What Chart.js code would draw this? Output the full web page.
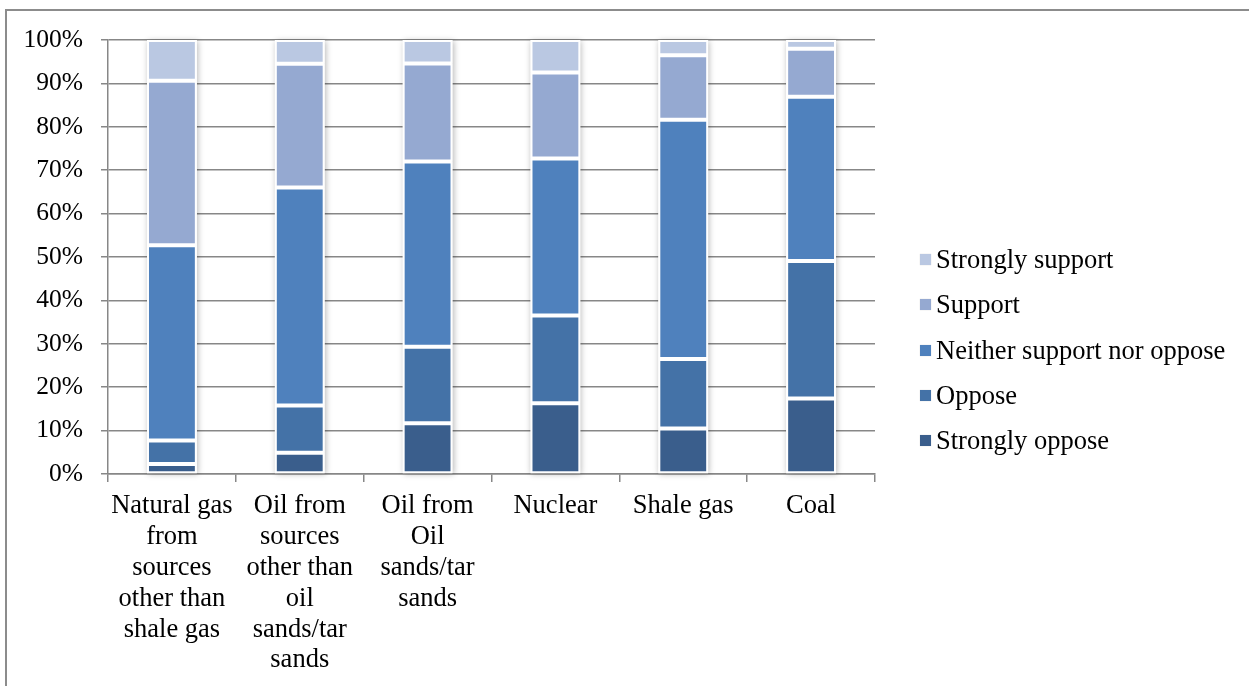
<!DOCTYPE html>
<html>
<head>
<meta charset="utf-8">
<script src="https://cdn.jsdelivr.net/npm/chart.js@4.4.1/dist/chart.umd.min.js"></script>
<style>
  html, body { margin: 0; padding: 0; background: #fff; overflow: hidden; }
  #frame { position: absolute; left: 5px; top: 9px; width: 1300px; height: 720px; border: 2px solid #8c8c8c; }
  #myChart { position: absolute; left: 0; top: 0; }
  #legend { position: absolute; left: 920px; top: 237px; font-family: 'Liberation Serif', 'Times New Roman', serif; font-size: 26.5px; color: #000; }
  #legend .item { height: 45.3px; display: flex; align-items: center; white-space: nowrap; }
  #legend .box { width: 11px; height: 11px; margin-right: 5px; box-shadow: 0 0 1px rgba(0,0,0,0.2); }
</style>
</head>
<body>
<div id="frame"></div>
<canvas id="myChart" width="1249" height="686"></canvas>
<div id="legend"></div>
<script>
const CATEGORIES = [
  ["Natural gas", "from", "sources", "other than", "shale gas"],
  ["Oil from", "sources", "other than", "oil", "sands/tar", "sands"],
  ["Oil from", "Oil", "sands/tar", "sands"],
  "Nuclear",
  "Shale gas",
  "Coal",
];
const STRONGLY_OPPOSE = [2.3, 4.9, 11.7, 16.3, 10.5, 17.4];
const OPPOSE = [5.4, 10.9, 17.6, 20.2, 16.0, 31.7];
const NEITHER = [45.0, 50.2, 42.7, 36.2, 55.1, 37.8];
const SUPPORT = [37.9, 28.5, 22.6, 19.8, 14.9, 11.1];
const STRONGLY_SUPPORT = [9.4, 5.5, 5.4, 7.5, 3.5, 2.0];
const Y_TICKS = [0, 10, 20, 30, 40, 50, 60, 70, 80, 90, 100];

Chart.defaults.font.family = "'Liberation Serif', 'Times New Roman', serif";
Chart.defaults.color = "#000";

// soft shadow behind each whole column, like the office chart
const barShadow = {
  id: "barShadow",
  beforeDatasetsDraw(chart) {
    const ctx = chart.ctx;
    const first = chart.getDatasetMeta(0).data;
    const last = chart.getDatasetMeta(chart.data.datasets.length - 1).data;
    ctx.save();
    ctx.shadowColor = "rgba(0,0,0,0.28)";
    ctx.shadowBlur = 6;
    ctx.shadowOffsetX = 1;
    ctx.shadowOffsetY = 1;
    ctx.fillStyle = "#fff";
    first.forEach((bar, i) => {
      const top = last[i].y;
      const bottom = bar.base;
      ctx.fillRect(bar.x - bar.width / 2, top, bar.width, bottom - top);
    });
    ctx.restore();
  },
};

function makeSet(label, data, color) {
  return {
    label: label,
    data: data,
    backgroundColor: color,
    borderColor: "#ffffff",
    borderWidth: 2,
    borderSkipped: false,
    barPercentage: 0.39,
    categoryPercentage: 1,
  };
}

const ctx = document.getElementById("myChart").getContext("2d");
const chart = new Chart(ctx, {
  type: "bar",
  data: {
    labels: CATEGORIES,
    datasets: [
      makeSet("Strongly oppose", STRONGLY_OPPOSE, "#3a5e8c"),
      makeSet("Oppose", OPPOSE, "#4472a7"),
      makeSet("Neither support nor oppose", NEITHER, "#4f81bd"),
      makeSet("Support", SUPPORT, "#95a9d1"),
      makeSet("Strongly support", STRONGLY_SUPPORT, "#bac8e2"),
    ],
  },
  plugins: [barShadow],
  options: {
    responsive: false,
    animation: false,
    layout: { padding: { left: 0, top: 40, right: 374, bottom: 0 } },
    plugins: {
      tooltip: { enabled: false },
      legend: { display: false },
    },
    scales: {
      x: {
        stacked: true,
        grid: { offset: true, drawOnChartArea: false, tickLength: 8, color: "#878787", lineWidth: 1.5 },
        border: { color: "#878787", width: 1.5 },
        ticks: { font: { size: 26.5, lineHeight: 1.162 }, padding: 9, maxRotation: 0, autoSkip: false },
        afterFit(scale) { scale.height = 212; },
      },
      y: {
        stacked: true,
        min: 0,
        max: 100,
        afterBuildTicks(scale) { scale.ticks = Y_TICKS.map((v) => ({ value: v })); },
        grid: { color: "#878787", lineWidth: 1.5, tickLength: 7 },
        border: { color: "#878787", width: 1.5 },
        ticks: { font: { size: 25.5 }, padding: 18, callback: (v) => v + "%" },
        afterFit(scale) { scale.width = 108; },
      },
    },
  },
});

// legend, top item first like the original
const legendEl = document.getElementById("legend");
chart.data.datasets.slice().reverse().forEach((ds) => {
  const item = document.createElement("div");
  item.className = "item";
  const box = document.createElement("span");
  box.className = "box";
  box.style.background = ds.backgroundColor;
  const text = document.createElement("span");
  text.textContent = ds.label;
  item.appendChild(box);
  item.appendChild(text);
  legendEl.appendChild(item);
});
</script>
</body>
</html>
